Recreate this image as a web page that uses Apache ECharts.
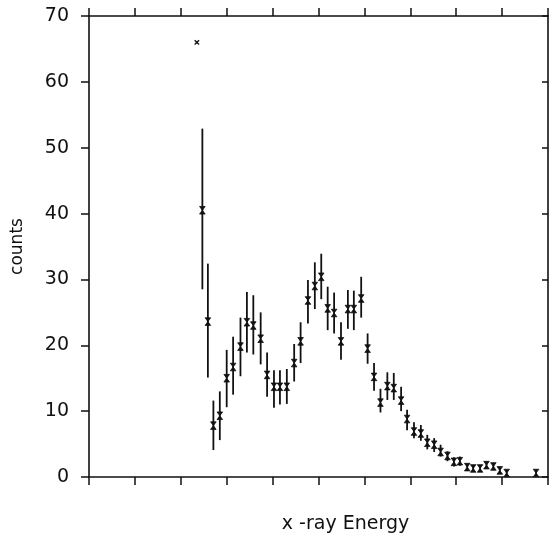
<!DOCTYPE html>
<html>
<head>
<meta charset="utf-8">
<script src="https://cdn.jsdelivr.net/npm/echarts@6/dist/echarts.min.js"></script>
<style>
  html, body { margin: 0; padding: 0; background: #fff; }
  #chart { width: 555px; height: 544px; }
</style>
</head>
<body>
<div id="chart"></div>
<script>
// Measured spectrum: channel energy (arbitrary units), counts, and error bar limits
const energy = [24.7, 25.9, 27.1, 28.5, 30.0, 31.4, 33.0, 34.4, 35.8, 37.4,
                38.8, 40.3, 41.6, 43.1, 44.7, 46.1, 47.7, 49.2, 50.6, 52.0,
                53.4, 54.9, 56.4, 57.7, 59.3, 60.7, 62.1, 63.5, 65.0, 66.4,
                68.0, 69.3, 70.8, 72.3, 73.7, 75.2, 76.6, 78.1, 79.5, 80.8,
                82.4, 83.7, 85.2, 86.6, 88.1, 89.5, 91.0, 97.4];
const counts = [40.5, 23.6, 7.8, 9.3, 15.0, 16.7, 19.8, 23.5, 23.0, 21.0,
                15.5, 13.7, 13.7, 13.7, 17.3, 20.6, 26.8, 29.0, 30.4, 25.6,
                24.9, 20.6, 25.5, 25.5, 27.1, 19.5, 15.2, 11.3, 13.8, 13.5,
                11.6, 8.8, 6.9, 6.6, 5.2, 4.9, 3.8, 3.2, 2.3, 2.4,
                1.5, 1.3, 1.3, 1.8, 1.6, 1.0, 0.6, 0.6];
const errLow = [28.5, 15.1, 4.1, 5.6, 10.6, 12.5, 15.3, 18.9, 18.6, 17.1,
                12.2, 10.5, 11.0, 11.1, 14.5, 17.3, 23.3, 25.5, 27.0, 22.3,
                21.8, 17.8, 22.5, 22.3, 24.2, 17.2, 13.1, 9.8, 11.7, 11.7,
                10.0, 7.1, 5.9, 5.5, 4.2, 3.8, 3.1, 2.4, 1.6, 1.7,
                1.0, 0.9, 0.9, 1.3, 1.1, 0.5, 0.3, 0.3];
const errHigh = [52.9, 32.4, 11.6, 13.0, 19.3, 21.3, 24.2, 28.1, 27.6, 25.0,
                 18.9, 16.2, 16.2, 16.4, 20.2, 23.5, 29.9, 32.6, 33.9, 28.9,
                 28.0, 23.5, 28.4, 28.3, 30.4, 21.8, 17.3, 13.4, 15.9, 15.8,
                 13.7, 10.2, 8.3, 7.9, 6.4, 5.9, 4.9, 3.9, 3.0, 3.1,
                 2.0, 1.8, 1.8, 2.3, 2.1, 1.5, 1.0, 0.9];
// Single high reading drawn without an error bar
const overflowEnergy = [23.5];
const overflowCounts = [66];

const yTicks = [0, 10, 20, 30, 40, 50, 60, 70];

const ink = '#111';
const fontFamily = 'DejaVu Sans';

const pointData = energy.map((e, i) => [e, counts[i], errLow[i], errHigh[i]]);
const overflowData = overflowEnergy.map((e, i) => [e, overflowCounts[i]]);

const chart = echarts.init(document.getElementById('chart'), null, { renderer: 'canvas' });

// Error bar plus an hourglass-shaped point marker
function renderPoint(params, api) {
  const x = api.value(0);
  const c = api.coord([x, api.value(1)]);
  const lo = api.coord([x, api.value(2)]);
  const hi = api.coord([x, api.value(3)]);
  const w = 2.8, h = 3.8;
  return {
    type: 'group',
    children: [
      {
        type: 'line',
        shape: { x1: c[0], y1: lo[1], x2: c[0], y2: hi[1] },
        style: { stroke: ink, lineWidth: 1.8 }
      },
      {
        type: 'polygon',
        shape: { points: [[c[0] - w, c[1] - h], [c[0] + w, c[1] - h], [c[0] - w, c[1] + h], [c[0] + w, c[1] + h]] },
        style: { fill: ink, stroke: ink, lineWidth: 0.8 }
      }
    ]
  };
}

// Small "x" marker
function renderCross(params, api) {
  const c = api.coord([api.value(0), api.value(1)]);
  const s = 2.2;
  return {
    type: 'group',
    children: [
      { type: 'line', shape: { x1: c[0] - s, y1: c[1] - s, x2: c[0] + s, y2: c[1] + s }, style: { stroke: ink, lineWidth: 1.4 } },
      { type: 'line', shape: { x1: c[0] + s, y1: c[1] - s, x2: c[0] - s, y2: c[1] + s }, style: { stroke: ink, lineWidth: 1.4 } }
    ]
  };
}

const axisLineStyle = { color: ink, width: 1.6 };
const tickStyle = { color: ink, width: 1.5 };

chart.setOption({
  animation: false,
  backgroundColor: '#fff',
  grid: { left: 89, right: 7, top: 16, bottom: 67, containLabel: false, outerBoundsMode: 'none' },
  xAxis: [
    {
      type: 'value', position: 'bottom', min: 0, max: 100, interval: 10,
      name: 'x -ray Energy', nameLocation: 'middle', nameGap: 38,
      nameTextStyle: { color: ink, fontFamily, fontSize: 19, padding: [0, 0, 0, 54] },
      axisLine: { show: true, onZero: false, lineStyle: axisLineStyle },
      axisTick: { show: true, inside: false, length: 8, lineStyle: tickStyle },
      axisLabel: { show: false },
      splitLine: { show: false }
    },
    {
      type: 'value', position: 'top', min: 0, max: 100, interval: 10,
      axisLine: { show: true, onZero: false, lineStyle: axisLineStyle },
      axisTick: { show: true, inside: false, length: 8, lineStyle: tickStyle },
      axisLabel: { show: false },
      splitLine: { show: false }
    }
  ],
  yAxis: [
    {
      type: 'value', position: 'left', min: yTicks[0], max: yTicks[yTicks.length - 1], interval: 10,
      name: 'counts', nameLocation: 'middle', nameGap: 63, nameRotate: 90,
      nameTextStyle: { color: ink, fontFamily, fontSize: 17 },
      axisLine: { show: true, onZero: false, lineStyle: axisLineStyle },
      axisTick: { show: true, inside: false, length: 8, lineStyle: tickStyle },
      axisLabel: { show: true, color: ink, fontFamily, fontSize: 19, margin: 20 },
      splitLine: { show: false }
    },
    {
      type: 'value', position: 'right', min: yTicks[0], max: yTicks[yTicks.length - 1], interval: 10,
      axisLine: { show: true, onZero: false, lineStyle: axisLineStyle },
      axisTick: { show: true, inside: true, length: 6, lineStyle: tickStyle },
      axisLabel: { show: false },
      splitLine: { show: false }
    }
  ],
  series: [
    {
      type: 'custom', xAxisIndex: 0, yAxisIndex: 0,
      renderItem: renderPoint,
      data: pointData,
      clip: false,
      z: 5
    },
    {
      type: 'custom', xAxisIndex: 0, yAxisIndex: 0,
      renderItem: renderCross,
      data: overflowData,
      z: 5
    }
  ]
});
</script>
</body>
</html>
